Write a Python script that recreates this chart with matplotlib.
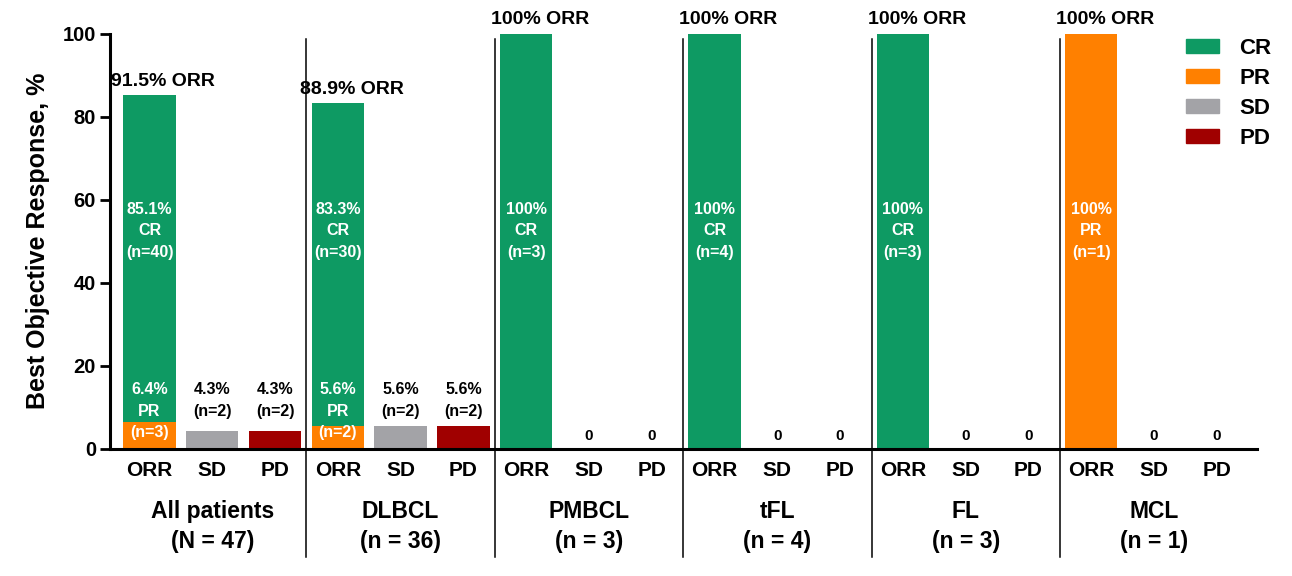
import matplotlib.pyplot as plt
from matplotlib.patches import Patch
from matplotlib.transforms import blended_transform_factory

plt.rcParams['font.family'] = ['Liberation Sans', 'DejaVu Sans']
plt.rcParams['font.weight'] = 'bold'

# data
groups = ["All patients", "DLBCL", "PMBCL", "tFL", "FL", "MCL"]
group_ns = ["(N = 47)", "(n = 36)", "(n = 3)", "(n = 4)", "(n = 3)", "(n = 1)"]
bar_names = ["ORR", "SD", "PD"]
orr_pct = [91.5, 88.9, 100, 100, 100, 100]
cr_pct = [85.1, 83.3, 100, 100, 100, 0]
pr_pct = [6.4, 5.6, 0, 0, 0, 100]
sd_pct = [4.3, 5.6, 0, 0, 0, 0]
pd_pct = [4.3, 5.6, 0, 0, 0, 0]
cr_n = [40, 30, 3, 4, 3, 0]
pr_n = [3, 2, 0, 0, 0, 1]
sd_n = [2, 2, 0, 0, 0, 0]
pd_n = [2, 2, 0, 0, 0, 0]

c_cr = "#0E9A63"
c_pr = "#FF8000"
c_sd = "#A3A3A7"
c_pd = "#A00000"

fig = plt.figure(figsize=(12.92, 5.76), dpi=100)
ax = fig.add_axes([0.0851, 0.2205, 0.8878, 0.7213])

w = 0.835
x_orr = [3 * g for g in range(len(groups))]
x_sd = [3 * g + 1 for g in range(len(groups))]
x_pd = [3 * g + 2 for g in range(len(groups))]

ax.bar(x_orr, cr_pct, width=w, color=c_cr, zorder=2)
ax.bar(x_orr, pr_pct, width=w, color=c_pr, zorder=2)
ax.bar(x_sd, sd_pct, width=w, color=c_sd, zorder=2)
ax.bar(x_pd, pd_pct, width=w, color=c_pd, zorder=2)

inner_kw = dict(ha='center', va='center', color='white', fontsize=11.5,
                fontweight='bold', linespacing=1.55, zorder=3)

for g in range(len(groups)):
    top = max(cr_pct[g], pr_pct[g])
    ax.text(x_orr[g] + 0.22, top + 3.3, f"{orr_pct[g]:g}% ORR", ha='center',
            va='center', fontsize=14, fontweight='bold', clip_on=False)

    # big label in the middle of the ORR bar
    if cr_pct[g] > 0:
        ax.text(x_orr[g], 52.5, f"{cr_pct[g]:g}%\nCR\n(n={cr_n[g]})", **inner_kw)
        if pr_pct[g] > 0:
            ax.text(x_orr[g], 9.1, f"{pr_pct[g]:g}%\nPR\n(n={pr_n[g]})", **inner_kw)
    else:
        ax.text(x_orr[g], 52.5, f"{pr_pct[g]:g}%\nPR\n(n={pr_n[g]})", **inner_kw)

    for xs, vals, ns in [(x_sd, sd_pct, sd_n), (x_pd, pd_pct, pd_n)]:
        if vals[g] > 0:
            ax.text(xs[g], 11.7, f"{vals[g]:g}%\n(n={ns[g]})", ha='center', va='center',
                    fontsize=11.5, fontweight='bold', linespacing=1.55)
        else:
            ax.text(xs[g], 3.1, "0", ha='center', va='center', fontsize=11,
                    fontweight='bold')

# axes styling
ax.set_xlim(-0.63, 17.64)
ax.set_ylim(0, 100)
ax.set_yticks([0, 20, 40, 60, 80, 100])
for s in ['top', 'right']:
    ax.spines[s].set_visible(False)
ax.spines['left'].set_linewidth(2.2)
ax.spines['bottom'].set_linewidth(2.2)
ax.tick_params(axis='y', length=7, width=2, pad=3, labelsize=14.5)
ax.tick_params(axis='x', length=0, pad=9, labelsize=15)
xt = sorted(x_orr + x_sd + x_pd)
ax.set_xticks(xt)
ax.set_xticklabels(bar_names * len(groups), fontweight='bold')
for lab in ax.get_yticklabels():
    lab.set_fontweight('bold')
ax.set_ylabel("Best Objective Response, %", fontsize=18, fontweight='bold', labelpad=9)

# group labels and separators
trans = blended_transform_factory(ax.transData, ax.transAxes)
for g in range(len(groups)):
    ax.text(x_pd[g] - 1, -0.187, groups[g] + "\n" + group_ns[g], transform=trans,
            ha='center', va='center', fontsize=16.5, fontweight='bold',
            linespacing=1.4)
    if g > 0:
        ax.plot([x_orr[g] - 0.5] * 2, [-0.26, 0.987], transform=trans, color='black',
                lw=1.1, clip_on=False, zorder=1)

# legend
handles = [Patch(color=c_cr, label="CR"), Patch(color=c_pr, label="PR"),
           Patch(color=c_sd, label="SD"), Patch(color=c_pd, label="PD")]
fig.legend(handles=handles, loc='upper left', bbox_to_anchor=(0.918, 0.934),
           frameon=False, fontsize=16, handlelength=1.5, handleheight=0.6,
           handletextpad=0.9, labelspacing=0.4, borderpad=0, borderaxespad=0)

fig.savefig("out.png", dpi=100)
